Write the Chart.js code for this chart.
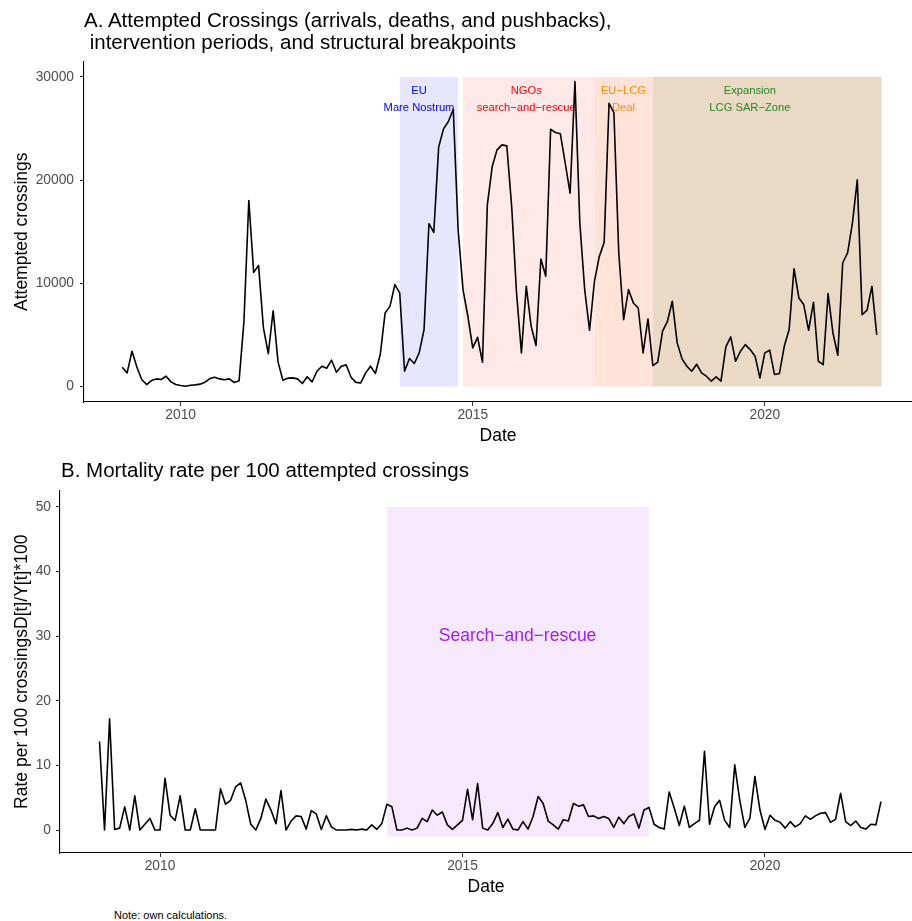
<!DOCTYPE html>
<html>
<head>
<meta charset="utf-8">
<script src="https://cdn.jsdelivr.net/npm/chart.js@4.4.0/dist/chart.umd.min.js"></script>
<style>
html, body { margin: 0; padding: 0; background: #fff; width: 912px; height: 921px; overflow: hidden; }
#wrap { position: relative; width: 912px; height: 921px; font-family: "Liberation Sans", Arial, Helvetica, sans-serif; }
canvas { position: absolute; left: 0; }
.t { position: absolute; white-space: pre; color: #000; z-index: 2; }
</style>
</head>
<body>
<div id="wrap">
  <canvas id="c1" width="912" height="450" style="top:0px"></canvas>
  <canvas id="c2" width="912" height="450" style="top:450px"></canvas>
  <div class="t" style="left:84px;top:9px;font-size:20.5px;line-height:22px;">A. Attempted Crossings (arrivals, deaths, and pushbacks),
 intervention periods, and structural breakpoints</div>
  <div class="t" style="left:61px;top:459px;font-size:20.5px;line-height:22px;">B. Mortality rate per 100 attempted crossings</div>
  <div class="t" style="left:114px;top:909px;font-size:11px;line-height:13px;">Note: own calculations.</div>
</div>
<script>
// ---------------- DATA ----------------
const startYear = 2009;   // first month: January 2009, monthly series

// Attempted crossings per month (arrivals + deaths + pushbacks), Jan 2009 - Dec 2021
const attempted = [
  1870, 1320, 3420, 1900, 680, 190, 580, 740, 680, 1000, 450, 190,          // 2009
  100, 30, 130, 160, 230, 420, 770, 900, 740, 650, 740, 390,                 // 2010
  550, 6320, 18030, 11060, 11740, 5680, 3190, 7350, 2390, 610, 810, 840,     // 2011
  740, 290, 940, 450, 1480, 1970, 1770, 2550, 1390, 1970, 2100, 900,         // 2012
  400, 350, 1320, 1970, 1260, 3100, 7130, 7770, 9870, 9070, 1480, 2710,      // 2013
  2230, 3260, 5520, 15780, 14940, 23200, 24970, 25680, 26870, 15190, 9390, 6810, // 2014
  3740, 4770, 2360, 17610, 21320, 22940, 23420, 23320, 17450, 9070, 3260, 9710,  // 2015
  5840, 3970, 12360, 10680, 24940, 24610, 24490, 21650, 18740, 29550, 15840, 9390, // 2016
  5450, 10190, 12610, 13970, 27450, 26550, 12940, 6480, 9390, 8100, 7610, 3260,  // 2017
  6550, 2030, 2360, 5360, 6320, 8260, 4230, 2680, 1970, 1480, 2160, 1320,    // 2018
  1000, 520, 940, 520, 3840, 4810, 2450, 3420, 4060, 3580, 2940, 840,        // 2019
  3260, 3520, 1160, 1260, 3900, 5520, 11420, 8580, 7940, 5450, 8160, 2450,   // 2020
  2130, 9000, 5190, 3030, 11970, 12940, 15840, 20030, 6970, 7390, 9710, 5000 // 2021
];

// Mortality rate per 100 attempted crossings, Jan 2009 - Dec 2021
const mortality = [
  13.7, 0, 17.2, 0.1, 0.3, 3.6, 0, 5.3, 0, 0.9, 1.8, 0,        // 2009
  0, 8.0, 2.3, 1.5, 5.3, 0, 0, 3.3, 0, 0, 0, 0,                // 2010
  6.4, 4.0, 4.6, 6.7, 7.3, 4.6, 0.9, 0, 1.8, 4.8, 3.1, 1.0,    // 2011
  6.1, 0, 1.4, 2.2, 2.1, 0.15, 3.0, 2.5, 0.1, 2.2, 0.5, 0,     // 2012
  0, 0, 0.1, 0, 0.15, 0, 0.8, 0.1, 1.0, 4.0, 3.6, 0,           // 2013
  0, 0.3, 0, 0.3, 1.8, 1.3, 3.1, 2.3, 2.8, 0.8, 0.1, 0.8,      // 2014
  1.5, 6.3, 1.6, 7.2, 0.3, 0, 1.0, 2.7, 0.4, 1.7, 0.15, 0,     // 2015
  1.3, 0.15, 2.1, 5.2, 4.1, 1.4, 0.8, 0.15, 1.6, 1.4, 4.1, 3.7, // 2016
  3.9, 2.1, 2.2, 1.8, 2.1, 1.8, 0.4, 2.0, 1.0, 2.1, 2.5, 0.3,  // 2017
  3.1, 3.5, 0.9, 0.4, 0.15, 5.9, 3.4, 0.7, 3.7, 0.4, 1.0, 1.5, // 2018
  12.2, 0.9, 3.6, 4.6, 1.5, 0.4, 10.1, 4.6, 0.4, 1.8, 8.3, 3.1, // 2019
  0.1, 2.3, 1.5, 1.2, 0.3, 1.3, 0.5, 1.0, 2.2, 1.65, 2.2, 2.6, // 2020
  2.7, 1.2, 1.65, 5.7, 1.3, 0.7, 1.4, 0.4, 0.15, 0.9, 0.8, 4.4 // 2021
];

// Tick labels
const xTicks = [2010, 2015, 2020];
const yTicksA = [0, 10000, 20000, 30000];
const yTicksB = [0, 10, 20, 30, 40, 50];

// Intervention periods (panel A)
const periodLabels = ["EU\nMare Nostrum", "NGOs\nsearch\u2212and\u2212rescue", "EU\u2212LCG\nDeal", "Expansion\nLCG SAR\u2212Zone"];
const periodStart  = ["2013-10", "2014-11", "2017-02", "2018-02"];
const periodEnd    = ["2014-10", "2017-02", "2018-02", "2022-01"];
const periodTop    = 30000;

// Search-and-rescue period (panel B)
const sarLabel = "Search\u2212and\u2212rescue";
const sarStart = "2013-10";
const sarEnd   = "2018-02";
const sarRange = [-1, 50];

// ---------------- HELPERS ----------------
const FONT = '"Liberation Sans", Arial, Helvetica, sans-serif';
function ym(s) { const [y, m] = s.split('-').map(Number); return y + (m - 1) / 12; }
function monthX(i) { return startYear + i / 12; }
const ptsA = attempted.map((v, i) => ({ x: monthX(i), y: v }));
const ptsB = mortality.map((v, i) => ({ x: monthX(i), y: v }));

// ---------------- STYLES ----------------
const periodFill = ['#E6E6FF', '#FFE8E8', '#FFE3D9', '#E9D9C5'];
const periodText = ['#0000FF', '#FF0000', '#FF8C00', '#228B22'];
const periodLabelX = [2014.08, 2015.915, 2017.58, 2019.745];
const periodLabelY = 27800;

function shadePlugin(rects, labels) {
  return {
    id: 'shade',
    beforeDatasetsDraw(chart) {
      const { ctx, scales: { x, y } } = chart;
      ctx.save();
      rects.forEach(r => {
        const x0 = x.getPixelForValue(r.x0), x1 = x.getPixelForValue(r.x1);
        const y0 = y.getPixelForValue(r.y0), y1 = y.getPixelForValue(r.y1);
        ctx.fillStyle = r.color;
        ctx.fillRect(x0, y1, x1 - x0, y0 - y1);
      });
      labels.forEach(l => {
        ctx.fillStyle = l.color;
        ctx.font = l.size + 'px ' + FONT;
        ctx.textAlign = 'center';
        ctx.textBaseline = 'middle';
        const lines = l.text.split('\n');
        const cx = x.getPixelForValue(l.x), cy = y.getPixelForValue(l.y);
        const lh = l.lh;
        lines.forEach((t, k) => {
          ctx.fillText(t, cx, cy + (k - (lines.length - 1) / 2) * lh);
        });
      });
      ctx.restore();
    }
  };
}

function makeChart(id, o) {
  return new Chart(document.getElementById(id), {
    type: 'line',
    data: { datasets: [{ data: o.points, borderColor: '#000', borderWidth: 1.6, pointRadius: 0, tension: 0, fill: false, borderJoinStyle: 'round' }] },
    options: {
      responsive: false,
      animation: false,
      devicePixelRatio: 1,
      layout: { padding: { top: o.padTop, left: 0, right: 0, bottom: 0 } },
      plugins: { legend: { display: false }, tooltip: { enabled: false }, title: { display: false } },
      scales: {
        x: {
          type: 'linear', min: o.xmin, max: o.xmax,
          afterBuildTicks: s => { s.ticks = xTicks.map(v => ({ value: v })); },
          afterFit: s => { s.height = o.xAxisH; },
          ticks: { color: '#4d4d4d', font: { size: 13.8, family: FONT }, padding: 1, maxRotation: 0, autoSkip: false, callback: v => String(v) },
          grid: { drawOnChartArea: false, drawTicks: true, tickLength: 4, tickColor: '#333', tickWidth: 1 },
          border: { display: true, color: '#000', width: 1.1 },
          title: { display: true, text: 'Date', color: '#000', font: { size: 17.5, family: FONT }, padding: { top: 0, bottom: o.xTitlePad } }
        },
        y: {
          type: 'linear', min: o.ymin, max: o.ymax,
          afterBuildTicks: s => { s.ticks = o.yTicks.map(v => ({ value: v })); },
          afterFit: s => { s.width = o.yAxisW; },
          ticks: { color: '#4d4d4d', font: { size: 13.8, family: FONT }, padding: o.yTickPad, autoSkip: false, callback: v => String(v) },
          grid: { drawOnChartArea: false, drawTicks: true, tickLength: 4, tickColor: '#333', tickWidth: 1 },
          border: { display: true, color: '#000', width: 1.1 },
          title: { display: true, text: o.yTitle, color: '#000', font: { size: 17.5, family: FONT }, padding: { top: 11.5, bottom: 0 } }
        }
      }
    },
    plugins: [shadePlugin(o.rects, o.labels)]
  });
}

// Panel A
const rectsA = periodStart.map((s, i) => ({ x0: ym(s), x1: ym(periodEnd[i]), y0: 0, y1: periodTop, color: periodFill[i] }));
const labelsA = periodLabels.map((t, i) => ({ text: t, x: periodLabelX[i], y: periodLabelY, color: periodText[i], size: 11.2, lh: 16.7 }));
makeChart('c1', {
  points: ptsA, padTop: 61.5, xmin: 2008.345, xmax: 2022.52, ymin: -1500, ymax: 31500,
  xAxisH: 48, xTitlePad: 3.5, yAxisW: 84, yTickPad: 6, yTicks: yTicksA, yTitle: 'Attempted crossings',
  rects: rectsA, labels: labelsA
});

// Panel B
const rectsB = [{ x0: ym(sarStart), x1: ym(sarEnd), y0: sarRange[0], y1: sarRange[1], color: '#F6E9FE' }];
const labelsB = [{ text: sarLabel, x: 2015.91, y: 30, color: '#A020F0', size: 17.5, lh: 20 }];
makeChart('c2', {
  points: ptsB, padTop: 40.5, xmin: 2008.347, xmax: 2022.43, ymin: -3.55, ymax: 52.55,
  xAxisH: 47, xTitlePad: 2.5, yAxisW: 60, yTickPad: 5, yTicks: yTicksB, yTitle: 'Rate per 100 crossingsD[t]/Y[t]*100',
  rects: rectsB, labels: labelsB
});
</script>
</body>
</html>
